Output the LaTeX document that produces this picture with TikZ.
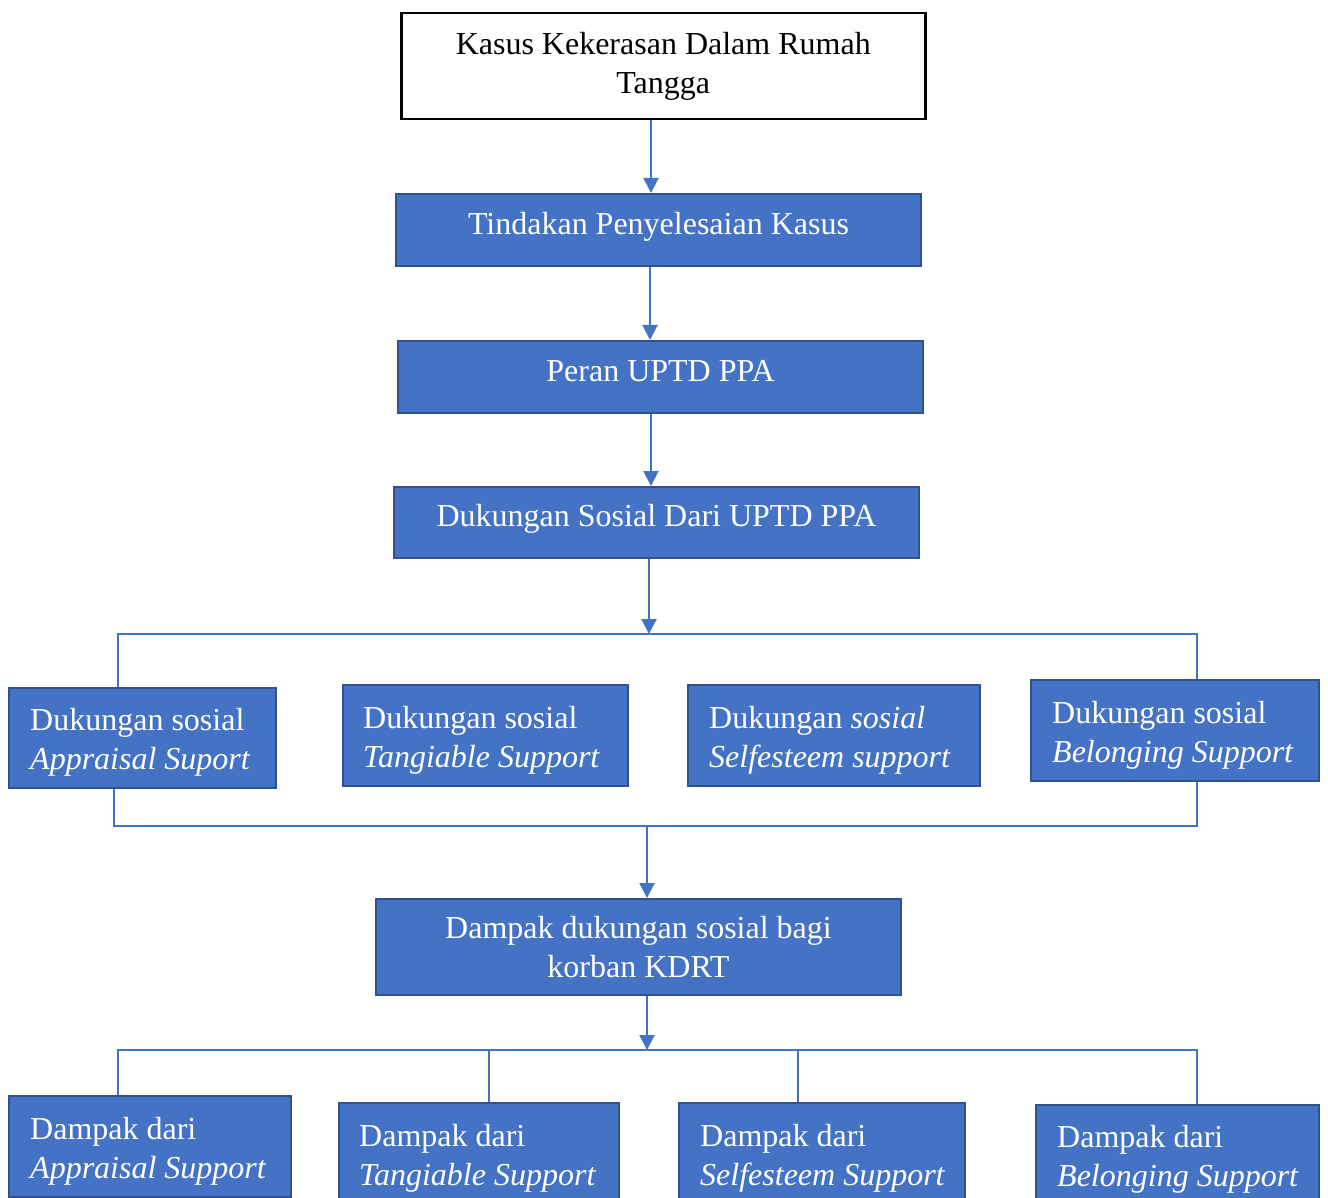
\documentclass[tikz,border=0pt]{standalone}
\usepackage{fontspec}
\setmainfont{Liberation Serif}
\usetikzlibrary{arrows.meta,calc}
\definecolor{boxfill}{HTML}{4472C4}
\definecolor{boxline}{HTML}{2F528F}
\definecolor{conn}{HTML}{4472C4}
\tikzset{
  txt/.style={font=\fontsize{32}{39}\selectfont},
  topbox/.style={txt, draw=black, line width=2.5pt, fill=white, align=center, inner sep=0pt, anchor=north west},
  bluebox/.style={txt, draw=boxline, line width=2pt, fill=boxfill, text=white, align=center, inner sep=0pt, anchor=north west},
  plainbox/.style={draw=boxline, line width=2pt, fill=boxfill, inner sep=0pt, anchor=north west},
  lbl/.style={txt, text=white, align=left, inner sep=0pt, anchor=west},
  arr/.style={draw=conn, line width=2pt, -{Triangle[width=15pt,length=15pt]}},
  brk/.style={draw=conn, line width=1.3pt},
}
\begin{document}
\begin{tikzpicture}[x=1pt,y=-1pt]
\useasboundingbox (0,0) rectangle (1328,1198);
\clip (0,0) rectangle (1328,1198);
\fill[white] (0,0) rectangle (1328,1198);
% main chain
\node[topbox, minimum width=524pt, minimum height=106pt] (k) at (400,12) {Kasus Kekerasan Dalam Rumah\\Tangga};
\node[bluebox, minimum width=525pt, minimum height=72pt] (t) at (395,193) {\raisebox{3pt}{Tindakan Penyelesaian Kasus}\strut};
\node[bluebox, minimum width=525pt, minimum height=72pt] (p) at (397,340) {\raisebox{3pt}{Peran UPTD PPA}\strut};
\node[bluebox, minimum width=525pt, minimum height=71pt] (d) at (393,486) {\raisebox{4pt}{Dukungan Sosial Dari UPTD PPA}\strut};
% support boxes
\node[plainbox, minimum width=267pt, minimum height=100pt] (b1) at (8,687) {};
\node[plainbox, minimum width=285pt, minimum height=101pt] (b2) at (342,684) {};
\node[plainbox, minimum width=292pt, minimum height=101pt] (b3) at (687,684) {};
\node[plainbox, minimum width=288pt, minimum height=101pt] (b4) at (1030,679) {};
\node[lbl] (b1t) at ([xshift=22pt,yshift=-4pt]b1.west) {Dukungan sosial\\\textit{Appraisal Suport}};
\node[lbl] (b2t) at ([xshift=21pt,yshift=-5pt]b2.west) {Dukungan sosial\\\textit{Tangiable Support}};
\node[lbl] (b3t) at ([xshift=22pt,yshift=-5pt]b3.west) {Dukungan \textit{sosial}\\\textit{Selfesteem support}};
\node[lbl] (b4t) at ([xshift=22pt,yshift=-5pt]b4.west) {Dukungan sosial\\\textit{Belonging Support}};
% impact
\node[bluebox, minimum width=525pt, minimum height=96pt] (m) at (375,898) {Dampak dukungan sosial bagi\\korban KDRT};
% impact boxes
\node[plainbox, minimum width=282pt, minimum height=101pt] (c1) at (8,1095) {};
\node[plainbox, minimum width=280pt, minimum height=101pt] (c2) at (338,1102) {};
\node[plainbox, minimum width=286pt, minimum height=101pt] (c3) at (678,1102) {};
\node[plainbox, minimum width=283pt, minimum height=101pt] (c4) at (1035,1104) {};
\node[lbl] (c1t) at ([xshift=22pt,yshift=-5pt]c1.west) {Dampak dari\\\textit{Appraisal Support}};
\node[lbl] (c2t) at ([xshift=21pt,yshift=-5pt]c2.west) {Dampak dari\\\textit{Tangiable Support}};
\node[lbl] (c3t) at ([xshift=22pt,yshift=-5pt]c3.west) {Dampak dari\\\textit{Selfesteem Support}};
\node[lbl] (c4t) at ([xshift=22pt,yshift=-4pt]c4.west) {Dampak dari\\\textit{Belonging Support}};
% connector coordinates
\coordinate (a1) at (651,0);
\coordinate (a2) at (650,0);
\coordinate (a3) at (651,0);
\coordinate (a4) at (649,0);
\coordinate (a5) at (647,0);
\coordinate (h1L) at (118,634);
\coordinate (h1R) at (1197,634);
\coordinate (h2L) at (114,826);
\coordinate (h2R) at (1197,826);
\coordinate (h3L) at (118,1050);
\coordinate (h3R) at (1197,1050);
\coordinate (v2) at (489,1050);
\coordinate (v3) at (798,1050);
% arrows
\draw[arr] (k.south -| a1) -- (t.north -| a1);
\draw[arr] (t.south -| a2) -- (p.north -| a2);
\draw[arr] (p.south -| a3) -- (d.north -| a3);
\draw[arr] (d.south -| a4) -- (h1L -| a4);
\draw[arr] (h2L -| a5) -- (m.north -| a5);
\draw[arr] (m.south -| a5) -- (h3L -| a5);
% brackets
\draw[brk] (b1.north -| h1L) -- (h1L) -- (h1R) -- (b4.north -| h1R);
\draw[brk] (b1.south -| h2L) -- (h2L) -- (h2R) -- (b4.south -| h2R);
\draw[brk] (c1.north -| h3L) -- (h3L) -- (h3R) -- (c4.north -| h3R);
\draw[brk] (v2) -- (c2.north -| v2);
\draw[brk] (v3) -- (c3.north -| v3);
\end{tikzpicture}
\end{document}
